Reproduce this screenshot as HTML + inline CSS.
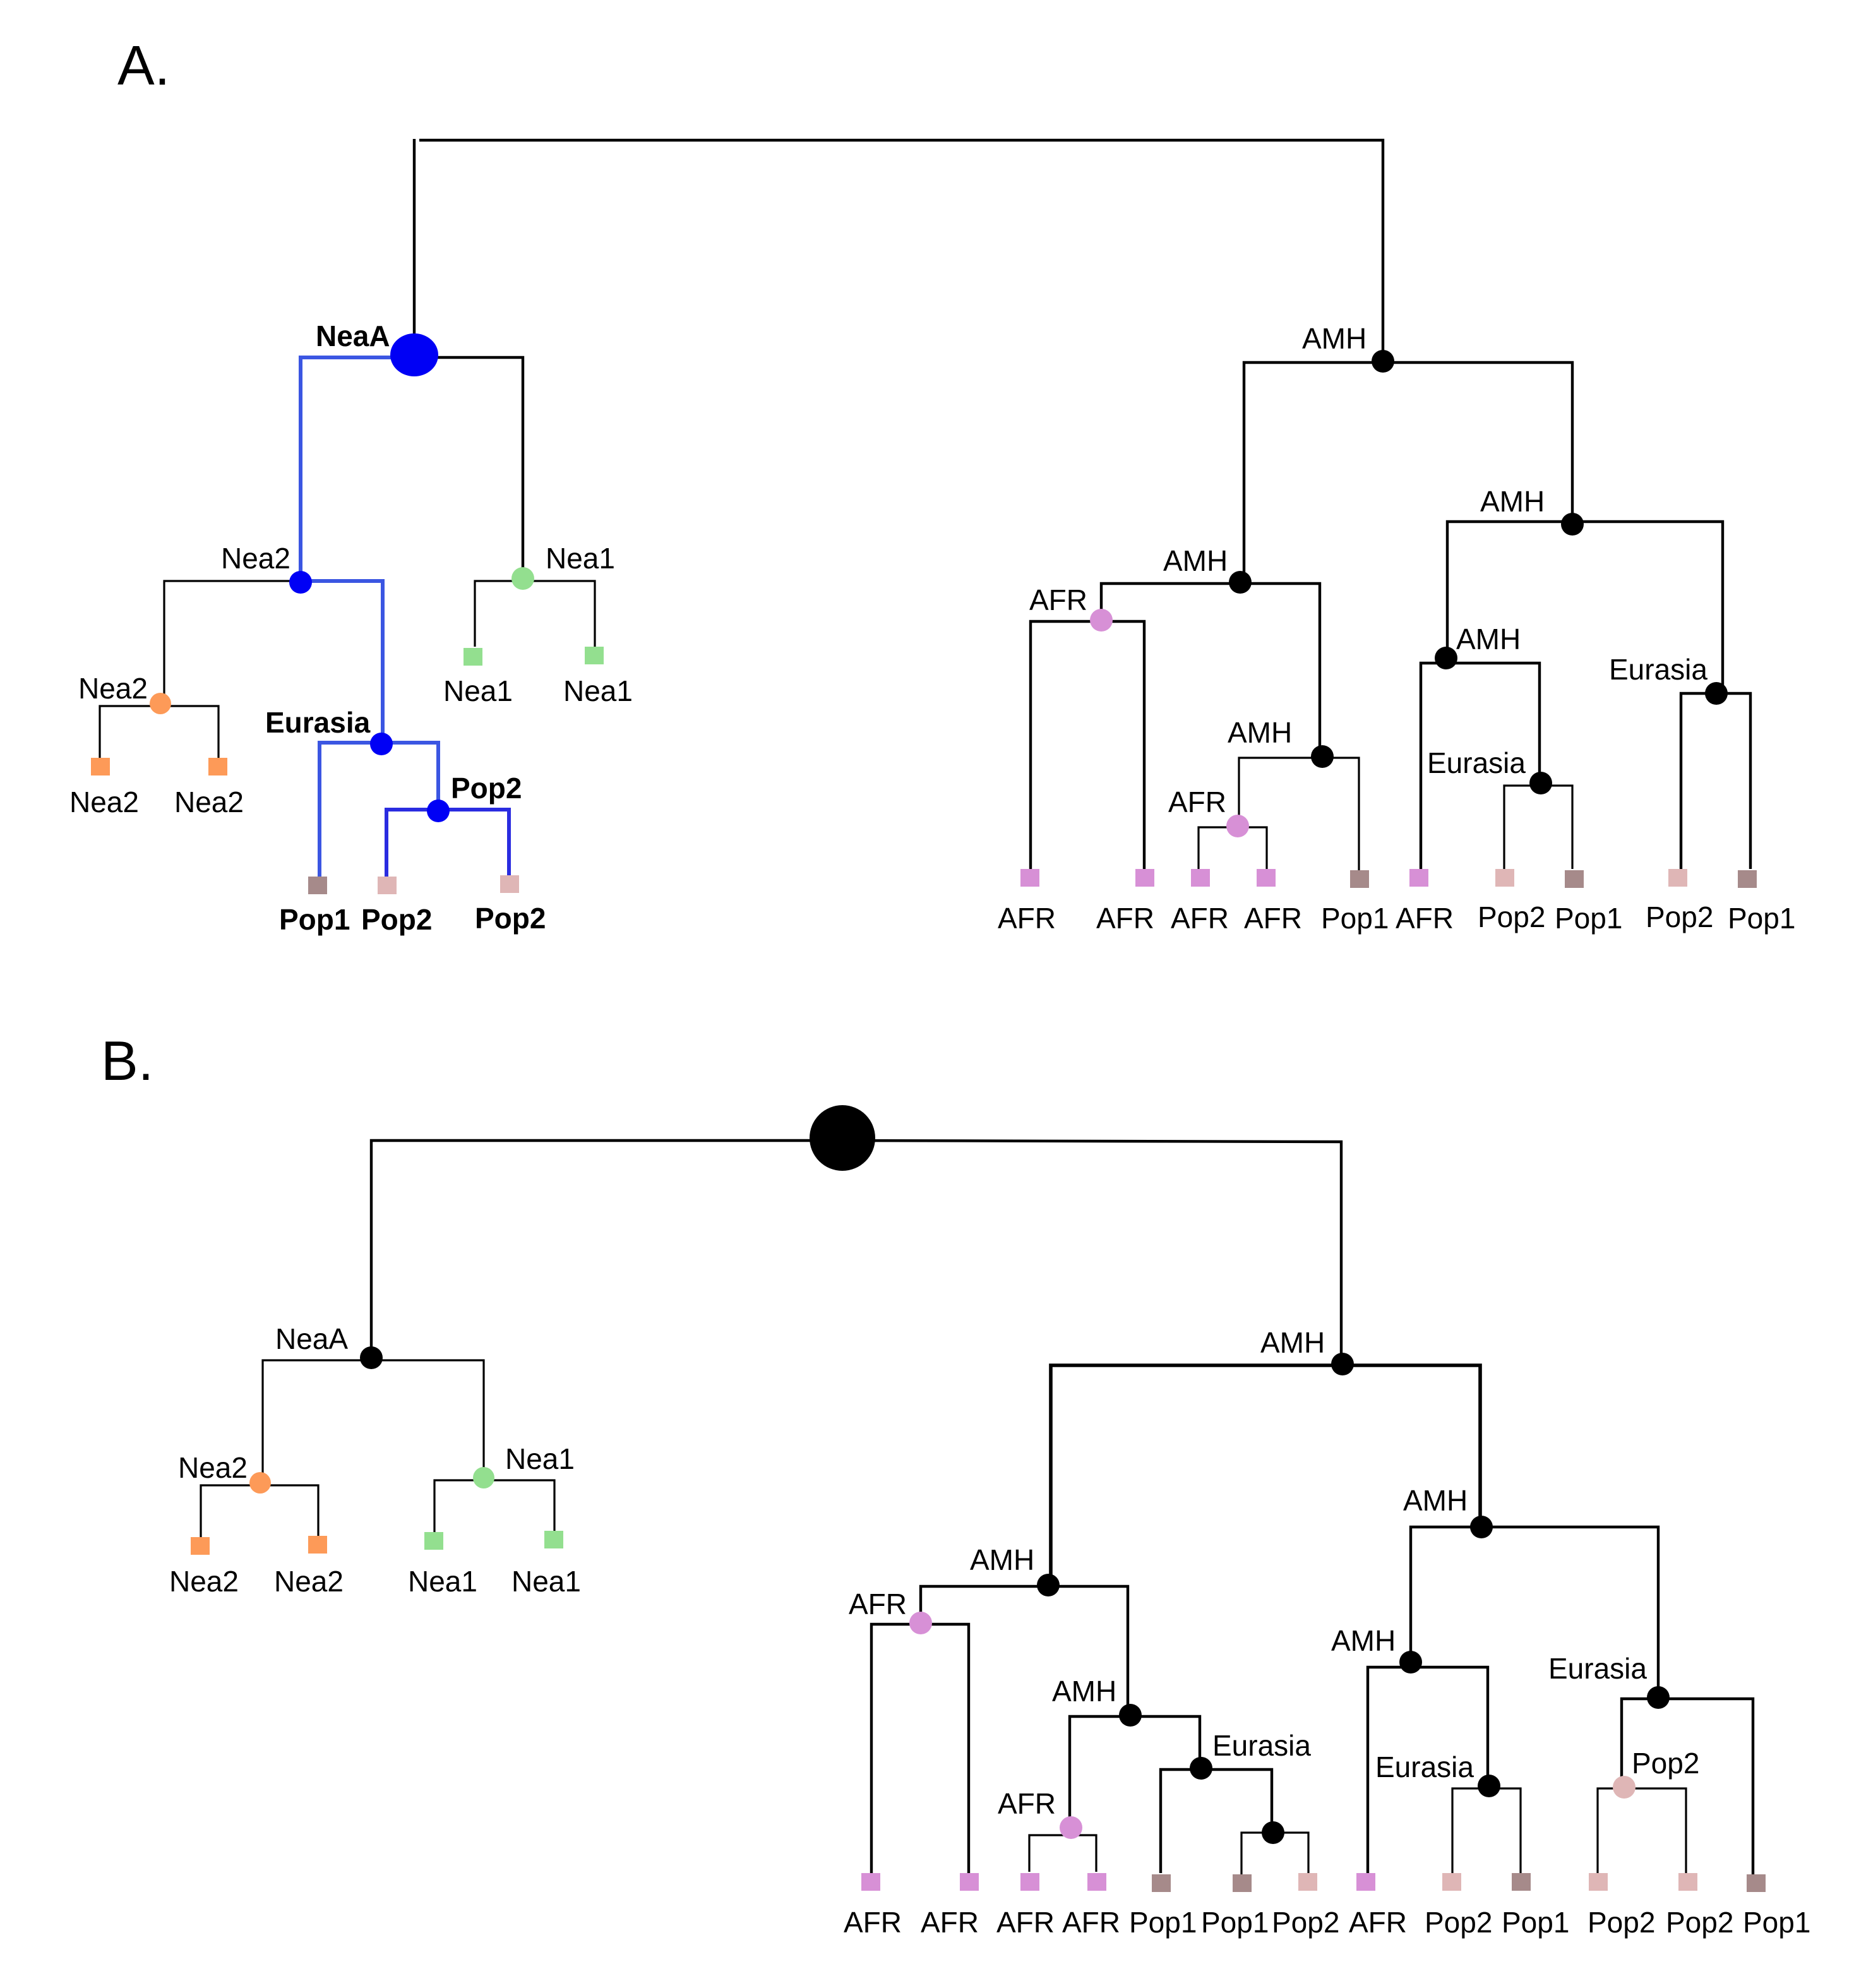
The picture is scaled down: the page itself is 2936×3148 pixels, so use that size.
<!DOCTYPE html>
<html><head><meta charset="utf-8"><style>
html,body{margin:0;padding:0;background:#fff;}
svg{display:block;}
text{font-family:"Liberation Sans",Arial,sans-serif;font-size:23px;fill:#000;}
.b{font-weight:bold;}
.k{stroke:#000;stroke-width:1.6;fill:none;}
.kt{stroke:#000;stroke-width:2.2;fill:none;}
.bl{stroke:#3b56e2;stroke-width:3;fill:none;}
</style></head><body>
<svg width="2936" height="3148" viewBox="0 0 1468 1574" xmlns="http://www.w3.org/2000/svg">
<rect width="1468" height="1574" fill="#fff"/>
<text x="93" y="67" style="font-size:44px">A.</text>
<text x="80" y="855" style="font-size:44px">B.</text>

<!-- ===== PANEL A ===== -->
<path class="kt" d="M328 110V281M332 111H1095V286"/>
<!-- left tree -->
<path class="bl" d="M238 461V283H328"/>
<path class="kt" d="M328 283H414V458"/>
<path class="k" d="M130 557V460H238"/>
<path class="bl" d="M238 460H303V588"/>
<path class="k" d="M79 600V559H173V600"/>
<path class="k" d="M376 512V460H471V512"/>
<path class="bl" d="M253 695V588H347V642"/>
<path class="bl" d="M306 695V641H403V693" style="stroke:#2a2ce0"/>
<ellipse cx="328" cy="281" rx="19" ry="17" fill="#0000f5"/>
<circle cx="238" cy="461" r="9" fill="#0000f5"/>
<circle cx="302" cy="589" r="9" fill="#0000f5"/>
<circle cx="347" cy="642" r="9" fill="#0000f5"/>
<circle cx="127" cy="557" r="8.5" fill="#fd9a58"/>
<circle cx="414" cy="458" r="9" fill="#93df8f"/>
<g fill="#fd9a58"><rect x="72" y="600" width="15" height="14"/><rect x="165" y="600" width="15" height="14"/></g>
<g fill="#93df8f"><rect x="367" y="513" width="15" height="14"/><rect x="463" y="512" width="15" height="14"/></g>
<rect x="244" y="694" width="15" height="14" fill="#a68a8a"/>
<rect x="299" y="694" width="15" height="14" fill="#dfb6b6"/>
<rect x="396" y="693" width="15" height="14" fill="#dfb6b6"/>
<text class="b" x="250" y="274">NeaA</text>
<text x="175" y="450">Nea2</text>
<text x="432" y="450">Nea1</text>
<text x="62" y="553">Nea2</text>
<text x="55" y="643">Nea2</text>
<text x="138" y="643">Nea2</text>
<text x="351" y="555">Nea1</text>
<text x="446" y="555">Nea1</text>
<text class="b" x="210" y="580">Eurasia</text>
<text class="b" x="357" y="632">Pop2</text>
<text class="b" x="221" y="736">Pop1</text>
<text class="b" x="286" y="736">Pop2</text>
<text class="b" x="376" y="735">Pop2</text>

<!-- right tree A -->
<path class="kt" d="M985 461V287H1245V415"/>
<path class="kt" d="M1146 521V413H1364V549"/>
<path class="kt" d="M872 490V462H1045V599"/>
<path class="kt" d="M816 688V492H906V688"/>
<path class="k" d="M981 653V600H1076V690"/>
<path class="k" d="M949 688V655H1003V688"/>
<path class="kt" d="M1125 688V525H1219V620"/>
<path class="k" d="M1191 688V622H1245V688"/>
<path class="kt" d="M1331 688V549H1386V688"/>
<g fill="#000">
<circle cx="1095" cy="286" r="9"/><circle cx="1245" cy="415" r="9"/><circle cx="982" cy="461" r="9"/>
<circle cx="1047" cy="599" r="9"/><circle cx="1145" cy="521" r="9"/><circle cx="1220" cy="620" r="9"/><circle cx="1359" cy="549" r="9"/>
</g>
<circle cx="872" cy="491" r="9" fill="#d790d6"/>
<circle cx="980" cy="654" r="9" fill="#d790d6"/>
<g fill="#d790d6"><rect x="808" y="688" width="15" height="14"/><rect x="899" y="688" width="15" height="14"/><rect x="943" y="688" width="15" height="14"/><rect x="995" y="688" width="15" height="14"/><rect x="1116" y="688" width="15" height="14"/></g>
<g fill="#a68a8a"><rect x="1069" y="689" width="15" height="14"/><rect x="1239" y="689" width="15" height="14"/><rect x="1376" y="689" width="15" height="14"/></g>
<g fill="#dfb6b6"><rect x="1184" y="688" width="15" height="14"/><rect x="1321" y="688" width="15" height="14"/></g>
<text x="1031" y="276">AMH</text>
<text x="1172" y="405">AMH</text>
<text x="921" y="452">AMH</text>
<text x="815" y="483">AFR</text>
<text x="972" y="588">AMH</text>
<text x="925" y="643">AFR</text>
<text x="1153" y="514">AMH</text>
<text x="1130" y="612">Eurasia</text>
<text x="1274" y="538">Eurasia</text>
<text x="790" y="735">AFR</text>
<text x="868" y="735">AFR</text>
<text x="927" y="735">AFR</text>
<text x="985" y="735">AFR</text>
<text x="1046" y="735">Pop1</text>
<text x="1105" y="735">AFR</text>
<text x="1170" y="734">Pop2</text>
<text x="1231" y="735">Pop1</text>
<text x="1303" y="734">Pop2</text>
<text x="1368" y="735">Pop1</text>

<!-- ===== PANEL B ===== -->
<path class="kt" d="M294 1075V903H667L1062 904V1080"/>
<circle cx="667" cy="901" r="26" fill="#000"/>
<path class="k" d="M208 1175V1077H383V1170"/>
<path class="k" d="M159 1217V1176H252V1217"/>
<path class="k" d="M344 1213V1172H439V1213"/>
<circle cx="294" cy="1075" r="9" fill="#000"/>
<circle cx="206" cy="1174" r="8.5" fill="#fd9a58"/>
<circle cx="383" cy="1170" r="8.5" fill="#93df8f"/>
<g fill="#fd9a58"><rect x="151" y="1217" width="15" height="14"/><rect x="244" y="1216" width="15" height="14"/></g>
<g fill="#93df8f"><rect x="336" y="1213" width="15" height="14"/><rect x="431" y="1212" width="15" height="14"/></g>
<text x="218" y="1068">NeaA</text>
<text x="141" y="1170">Nea2</text>
<text x="400" y="1163">Nea1</text>
<text x="134" y="1260">Nea2</text>
<text x="217" y="1260">Nea2</text>
<text x="323" y="1260">Nea1</text>
<text x="405" y="1260">Nea1</text>

<path class="kt" d="M832 1254V1081H1172V1209" style="stroke-width:2.8"/>
<path class="kt" d="M1117 1316V1209H1313V1344"/>
<path class="kt" d="M729 1285V1256H893V1358"/>
<path class="kt" d="M690 1483V1286H767V1483"/>
<path class="kt" d="M847 1447V1359H950V1400"/>
<path class="k" d="M815 1482V1453H868V1482"/>
<path class="kt" d="M919 1483V1401H1007V1451"/>
<path class="k" d="M983 1484V1451H1036V1484"/>
<path class="kt" d="M1083 1483V1320H1178V1414"/>
<path class="k" d="M1150 1483V1416H1204V1483"/>
<path class="kt" d="M1284 1414V1345H1388V1484"/>
<path class="k" d="M1265 1483V1416H1335V1483"/>
<g fill="#000">
<circle cx="1063" cy="1080" r="9"/><circle cx="1173" cy="1209" r="9"/><circle cx="830" cy="1255" r="9"/>
<circle cx="895" cy="1358" r="9"/><circle cx="951" cy="1400" r="9"/><circle cx="1008" cy="1451" r="9"/>
<circle cx="1117" cy="1316" r="9"/><circle cx="1179" cy="1414" r="9"/><circle cx="1313" cy="1344" r="9"/>
</g>
<circle cx="729" cy="1285" r="9" fill="#d790d6"/>
<circle cx="848" cy="1447" r="9" fill="#d790d6"/>
<circle cx="1286" cy="1415" r="9" fill="#dfb6b6"/>
<g fill="#d790d6"><rect x="682" y="1483" width="15" height="14"/><rect x="760" y="1483" width="15" height="14"/><rect x="808" y="1483" width="15" height="14"/><rect x="861" y="1483" width="15" height="14"/><rect x="1074" y="1483" width="15" height="14"/></g>
<g fill="#a68a8a"><rect x="912" y="1484" width="15" height="14"/><rect x="976" y="1484" width="15" height="14"/><rect x="1197" y="1483" width="15" height="14"/><rect x="1383" y="1484" width="15" height="14"/></g>
<g fill="#dfb6b6"><rect x="1028" y="1483" width="15" height="14"/><rect x="1142" y="1483" width="15" height="14"/><rect x="1258" y="1483" width="15" height="14"/><rect x="1329" y="1483" width="15" height="14"/></g>
<text x="998" y="1071">AMH</text>
<text x="1111" y="1196">AMH</text>
<text x="768" y="1243">AMH</text>
<text x="672" y="1278">AFR</text>
<text x="833" y="1347">AMH</text>
<text x="790" y="1436">AFR</text>
<text x="960" y="1390">Eurasia</text>
<text x="1054" y="1307">AMH</text>
<text x="1089" y="1407">Eurasia</text>
<text x="1226" y="1329">Eurasia</text>
<text x="1292" y="1404">Pop2</text>
<text x="668" y="1530">AFR</text>
<text x="729" y="1530">AFR</text>
<text x="789" y="1530">AFR</text>
<text x="841" y="1530">AFR</text>
<text x="894" y="1530">Pop1</text>
<text x="951" y="1530">Pop1</text>
<text x="1007" y="1530">Pop2</text>
<text x="1068" y="1530">AFR</text>
<text x="1128" y="1530">Pop2</text>
<text x="1189" y="1530">Pop1</text>
<text x="1257" y="1530">Pop2</text>
<text x="1319" y="1530">Pop2</text>
<text x="1380" y="1530">Pop1</text>
</svg>
</body></html>
